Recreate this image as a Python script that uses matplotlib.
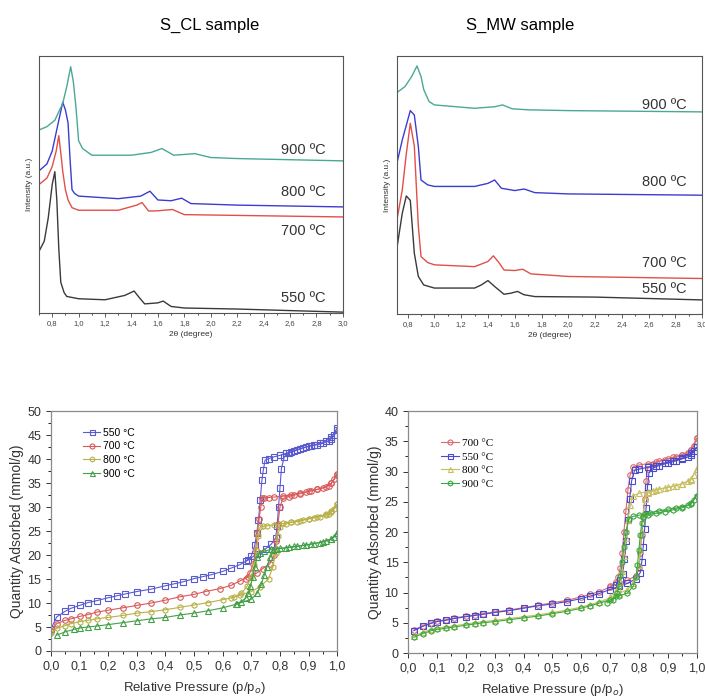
import matplotlib
matplotlib.use("Agg")
import matplotlib.pyplot as plt
from matplotlib.ticker import FuncFormatter, MultipleLocator

# ---- XRD patterns, S_CL (2theta, intensity a.u.) ----
cl_550_x = [0.70, 0.74, 0.77, 0.80, 0.82, 0.835, 0.85, 0.865, 0.89, 0.91, 1.0, 1.2, 1.35, 1.42, 1.46, 1.50, 1.60, 1.64, 1.70, 1.80, 2.2, 3.0]
cl_550_y = [24, 28, 37, 50, 55, 44, 25, 12, 8, 6.5, 5.6, 5.2, 6.9, 8.6, 6.0, 3.6, 4.0, 4.7, 2.6, 2.0, 1.6, 0.4]
cl_700_x = [0.70, 0.76, 0.80, 0.83, 0.85, 0.87, 0.88, 0.90, 0.92, 0.95, 1.0, 1.3, 1.44, 1.48, 1.53, 1.60, 1.71, 1.80, 2.2, 3.0]
cl_700_y = [50, 52.5, 57, 63, 69, 60, 55, 48, 44, 41, 40, 40, 42, 43, 39.7, 39.8, 40.3, 38.3, 38.0, 37.4]
cl_800_x = [0.70, 0.76, 0.80, 0.85, 0.88, 0.90, 0.92, 0.935, 0.95, 0.97, 1.0, 1.3, 1.47, 1.54, 1.60, 1.70, 1.78, 1.85, 2.2, 3.0]
cl_800_y = [55.3, 58, 63, 75, 82, 79, 74, 60, 48, 46.5, 45.5, 44.5, 45.5, 47.4, 44, 43.7, 44.7, 42.6, 42.0, 41.3]
cl_900_x = [0.70, 0.76, 0.82, 0.88, 0.91, 0.94, 0.96, 0.98, 1.0, 1.03, 1.1, 1.4, 1.55, 1.63, 1.72, 1.88, 2.0, 2.2, 3.0]
cl_900_y = [71.2, 72.5, 75, 81.6, 88, 95.8, 90, 80, 67, 64, 61.4, 61.4, 62.5, 64, 61.4, 62, 60.5, 60.1, 59.2]
cl_label_y = [6, 32, 47.1, 63.4]

# ---- XRD patterns, S_MW ----
mw_550_x = [0.72, 0.76, 0.79, 0.82, 0.85, 0.88, 0.92, 1.0, 1.3, 1.35, 1.40, 1.45, 1.52, 1.57, 1.62, 1.67, 1.75, 2.2, 3.0]
mw_550_y = [25.5, 39, 45.7, 44, 23.5, 14.5, 11.2, 10, 10, 11.2, 12.9, 10.6, 7.6, 8.0, 8.7, 7.4, 6.7, 6.5, 5.4]
mw_700_x = [0.72, 0.76, 0.79, 0.82, 0.85, 0.88, 0.90, 0.95, 1.0, 1.3, 1.4, 1.44, 1.48, 1.52, 1.6, 1.66, 1.72, 2.0, 3.0]
mw_700_y = [36.4, 48, 62, 73.9, 65, 34, 22.2, 19.9, 19, 18.3, 20.3, 22.5, 20, 17, 16.8, 17.3, 15.5, 14.5, 13.7]
mw_800_x = [0.72, 0.76, 0.82, 0.85, 0.88, 0.90, 0.95, 1.0, 1.3, 1.40, 1.45, 1.50, 1.6, 1.67, 1.75, 2.0, 3.0]
mw_800_y = [58.4, 67.4, 78.8, 77.1, 64.9, 51.9, 50, 49.4, 49.4, 50.6, 51.9, 48.7, 47.8, 48.4, 47, 46.5, 46]
mw_900_x = [0.72, 0.78, 0.83, 0.87, 0.90, 0.92, 0.96, 1.0, 1.3, 1.45, 1.51, 1.58, 1.7, 2.0, 3.0]
mw_900_y = [85.8, 88.1, 92, 96.1, 92, 87, 82.3, 81, 79.7, 80.3, 81, 79.5, 79.1, 78.8, 78.3]
mw_label_y = [9.6, 19.6, 51.3, 81]

temps = ["550", "700", "800", "900"]

# ---- N2 isotherms, S_CL (p/p0, mmol/g) ----
cl_iso_550_ads_x = [0.0, 0.02, 0.05, 0.07, 0.10, 0.13, 0.16, 0.20, 0.23, 0.26, 0.30, 0.35, 0.40, 0.43, 0.46, 0.50, 0.53, 0.56, 0.60, 0.63, 0.66, 0.69, 0.72, 0.75, 0.77, 0.785, 0.79, 0.795, 0.80, 0.805, 0.815, 0.83, 0.85, 0.87, 0.89, 0.91, 0.93, 0.95, 0.97, 0.98, 0.99, 1.0]
cl_iso_550_ads_y = [4.6, 7.1, 8.3, 8.9, 9.5, 10.1, 10.5, 11.1, 11.5, 11.9, 12.4, 12.9, 13.6, 14.0, 14.4, 15.1, 15.5, 15.9, 16.6, 17.3, 18.0, 19.0, 20.3, 21.3, 22.3, 23.6, 26.0, 30.0, 34.0, 38.0, 40.5, 41.3, 41.7, 42.1, 42.5, 42.8, 43.0, 43.3, 43.8, 44.3, 45.0, 46.0]
cl_iso_550_des_x = [1.0, 0.98, 0.96, 0.94, 0.92, 0.90, 0.88, 0.86, 0.84, 0.82, 0.80, 0.78, 0.76, 0.748, 0.742, 0.737, 0.731, 0.725, 0.719, 0.712, 0.70, 0.68]
cl_iso_550_des_y = [46.5, 44.6, 43.8, 43.3, 43.0, 42.7, 42.4, 42.0, 41.6, 41.2, 40.8, 40.5, 40.1, 39.8, 37.8, 35.6, 31.5, 27.3, 24.6, 22.0, 19.8, 18.7]
cl_iso_700_ads_x = [0.0, 0.02, 0.05, 0.07, 0.10, 0.13, 0.16, 0.20, 0.25, 0.30, 0.35, 0.40, 0.45, 0.50, 0.54, 0.59, 0.63, 0.66, 0.69, 0.72, 0.74, 0.765, 0.78, 0.787, 0.793, 0.80, 0.81, 0.83, 0.85, 0.87, 0.89, 0.91, 0.93, 0.95, 0.97, 0.98, 0.99, 1.0]
cl_iso_700_ads_y = [4.2, 5.7, 6.4, 6.7, 7.2, 7.6, 8.1, 8.5, 9.0, 9.5, 10.0, 10.6, 11.3, 11.8, 12.4, 13.0, 13.7, 14.6, 15.5, 16.3, 17.2, 18.2, 20.0, 23.0, 26.5, 30.0, 31.8, 32.2, 32.5, 32.8, 33.1, 33.4, 33.7, 34.0, 34.5, 35.0, 35.8, 36.8]
cl_iso_700_des_x = [1.0, 0.98, 0.96, 0.93, 0.90, 0.87, 0.84, 0.81, 0.78, 0.76, 0.745, 0.738, 0.733, 0.727, 0.721, 0.715, 0.707, 0.695, 0.68]
cl_iso_700_des_y = [37.0, 35.0, 34.2, 33.7, 33.3, 32.9, 32.6, 32.3, 32.1, 32.0, 31.9, 31.9, 30.0, 27.5, 24.5, 21.0, 18.2, 16.3, 15.1]
cl_iso_800_ads_x = [0.0, 0.02, 0.05, 0.07, 0.10, 0.13, 0.16, 0.20, 0.25, 0.30, 0.35, 0.40, 0.45, 0.50, 0.55, 0.60, 0.63, 0.66, 0.70, 0.73, 0.76, 0.775, 0.785, 0.792, 0.80, 0.82, 0.84, 0.86, 0.88, 0.90, 0.92, 0.94, 0.96, 0.97, 0.98, 0.99, 1.0]
cl_iso_800_ads_y = [3.8, 4.7, 5.3, 5.7, 6.1, 6.4, 6.7, 7.0, 7.4, 7.9, 8.2, 8.6, 9.1, 9.6, 10.1, 10.7, 11.1, 11.6, 12.4, 13.4, 15.0, 17.5, 20.5, 24.0, 25.8, 26.5, 26.8, 27.0, 27.3, 27.5, 27.8, 28.0, 28.3, 28.6, 29.0, 29.6, 30.6]
cl_iso_800_des_x = [1.0, 0.98, 0.96, 0.93, 0.90, 0.87, 0.84, 0.81, 0.78, 0.755, 0.74, 0.731, 0.725, 0.718, 0.71, 0.70, 0.685, 0.665, 0.64]
cl_iso_800_des_y = [30.6, 29.2, 28.5, 28.0, 27.6, 27.2, 26.9, 26.6, 26.3, 26.1, 26.0, 25.9, 24.0, 21.0, 18.0, 15.5, 13.5, 12.0, 11.2]
cl_iso_900_ads_x = [0.02, 0.05, 0.08, 0.10, 0.13, 0.16, 0.20, 0.25, 0.30, 0.35, 0.40, 0.45, 0.50, 0.55, 0.60, 0.65, 0.70, 0.72, 0.735, 0.745, 0.755, 0.765, 0.775, 0.79, 0.82, 0.85, 0.88, 0.91, 0.94, 0.96, 0.98, 0.99, 1.0]
cl_iso_900_ads_y = [3.3, 4.0, 4.5, 4.8, 5.0, 5.2, 5.5, 5.9, 6.3, 6.7, 7.0, 7.5, 7.9, 8.4, 9.0, 9.8, 10.8, 12.0, 14.0, 15.8, 17.6, 19.5, 21.0, 21.3, 21.5, 21.8, 22.0, 22.3, 22.6, 22.9, 23.3, 23.8, 24.6]
cl_iso_900_des_x = [1.0, 0.98, 0.95, 0.92, 0.89, 0.86, 0.83, 0.80, 0.77, 0.745, 0.73, 0.72, 0.712, 0.705, 0.697, 0.69, 0.68, 0.665, 0.645]
cl_iso_900_des_y = [24.6, 23.4, 22.8, 22.4, 22.1, 21.8, 21.6, 21.4, 21.2, 20.8, 20.4, 19.5, 17.5, 15.5, 13.5, 12.0, 11.0, 10.3, 9.8]

# ---- N2 isotherms, S_MW ----
mw_iso_700_ads_x = [0.02, 0.05, 0.08, 0.10, 0.13, 0.16, 0.20, 0.23, 0.26, 0.30, 0.35, 0.40, 0.45, 0.50, 0.55, 0.60, 0.63, 0.66, 0.70, 0.73, 0.76, 0.79, 0.80, 0.805, 0.81, 0.815, 0.82, 0.825, 0.83, 0.85, 0.87, 0.90, 0.93, 0.95, 0.97, 0.98, 0.99, 1.0]
mw_iso_700_ads_y = [3.8, 4.5, 5.0, 5.3, 5.5, 5.8, 6.1, 6.3, 6.5, 6.8, 7.1, 7.5, 7.9, 8.3, 8.7, 9.3, 9.7, 10.1, 10.9, 11.5, 12.0, 12.8, 14.0, 16.5, 19.5, 22.5, 25.5, 28.5, 30.5, 31.3, 31.7, 32.1, 32.4, 32.7, 33.0, 33.5, 34.2, 35.5]
mw_iso_700_des_x = [1.0, 0.98, 0.95, 0.92, 0.89, 0.86, 0.83, 0.80, 0.78, 0.77, 0.762, 0.755, 0.748, 0.742, 0.735, 0.728, 0.72, 0.70]
mw_iso_700_des_y = [35.5, 33.5, 32.8, 32.4, 32.0, 31.6, 31.3, 31.1, 30.8, 29.5, 27.0, 23.5, 20.0, 16.5, 14.0, 12.5, 11.8, 11.0]
mw_iso_550_ads_x = [0.02, 0.05, 0.08, 0.10, 0.13, 0.16, 0.20, 0.23, 0.26, 0.30, 0.35, 0.40, 0.45, 0.50, 0.55, 0.60, 0.63, 0.66, 0.70, 0.73, 0.76, 0.79, 0.805, 0.81, 0.815, 0.82, 0.825, 0.83, 0.835, 0.85, 0.87, 0.90, 0.93, 0.95, 0.97, 0.98, 0.99, 1.0]
mw_iso_550_ads_y = [3.7, 4.4, 4.9, 5.2, 5.4, 5.7, 6.0, 6.2, 6.4, 6.7, 7.0, 7.4, 7.8, 8.1, 8.5, 9.0, 9.4, 9.8, 10.5, 11.0, 11.5, 12.3, 13.3, 15.0, 17.5, 20.5, 24.0, 27.5, 29.8, 30.6, 31.0, 31.4, 31.8, 32.1, 32.4, 32.8, 33.4, 34.0]
mw_iso_550_des_x = [1.0, 0.98, 0.95, 0.92, 0.89, 0.86, 0.83, 0.80, 0.785, 0.775, 0.768, 0.762, 0.756, 0.75, 0.744, 0.735, 0.72]
mw_iso_550_des_y = [34.0, 33.0, 32.2, 31.8, 31.4, 31.0, 30.7, 30.4, 30.2, 28.5, 25.5, 22.0, 18.5, 15.5, 13.0, 12.0, 11.2]
mw_iso_800_ads_x = [0.02, 0.05, 0.08, 0.10, 0.13, 0.16, 0.20, 0.23, 0.26, 0.30, 0.35, 0.40, 0.45, 0.50, 0.55, 0.60, 0.63, 0.66, 0.70, 0.73, 0.76, 0.78, 0.79, 0.80, 0.805, 0.81, 0.815, 0.82, 0.83, 0.85, 0.87, 0.90, 0.93, 0.95, 0.97, 0.98, 0.99, 1.0]
mw_iso_800_ads_y = [2.8, 3.4, 3.9, 4.1, 4.3, 4.5, 4.8, 5.0, 5.2, 5.4, 5.7, 6.0, 6.3, 6.7, 7.1, 7.6, 8.0, 8.4, 9.1, 9.8, 10.5, 11.5, 12.8, 14.5, 17.0, 20.0, 23.0, 25.5, 26.4, 26.8, 27.1, 27.4, 27.7, 28.0, 28.4, 28.8, 29.5, 30.5]
mw_iso_800_des_x = [1.0, 0.98, 0.95, 0.92, 0.89, 0.86, 0.83, 0.80, 0.78, 0.77, 0.762, 0.755, 0.748, 0.742, 0.735, 0.728, 0.72, 0.70]
mw_iso_800_des_y = [30.5, 28.6, 28.0, 27.6, 27.3, 27.0, 26.7, 26.4, 26.0, 24.5, 22.0, 19.0, 16.0, 13.5, 11.8, 10.8, 10.2, 9.3]
mw_iso_900_ads_x = [0.02, 0.05, 0.08, 0.10, 0.13, 0.16, 0.20, 0.23, 0.26, 0.30, 0.35, 0.40, 0.45, 0.50, 0.55, 0.60, 0.63, 0.66, 0.70, 0.73, 0.76, 0.78, 0.79, 0.795, 0.80, 0.805, 0.81, 0.815, 0.82, 0.84, 0.87, 0.90, 0.93, 0.95, 0.97, 0.98, 0.99, 1.0]
mw_iso_900_ads_y = [2.6, 3.2, 3.7, 3.9, 4.1, 4.3, 4.6, 4.8, 5.0, 5.2, 5.5, 5.8, 6.1, 6.5, 6.9, 7.4, 7.8, 8.2, 8.8, 9.4, 9.9, 11.0, 12.5, 14.5, 17.0, 19.5, 21.5, 22.5, 23.0, 23.2, 23.5, 23.8, 24.0, 24.2, 24.5, 24.8, 25.3, 26.0]
mw_iso_900_des_x = [1.0, 0.98, 0.95, 0.92, 0.89, 0.86, 0.83, 0.80, 0.78, 0.765, 0.755, 0.748, 0.742, 0.736, 0.73, 0.725, 0.72, 0.71, 0.69]
mw_iso_900_des_y = [26.0, 24.6, 24.0, 23.7, 23.4, 23.1, 22.9, 22.8, 22.6, 22.2, 20.0, 17.5, 15.0, 12.8, 11.0, 10.0, 9.4, 8.8, 8.3]

plt.rcParams["font.family"] = ["Liberation Sans", "DejaVu Sans"]

xrd_colors = {"550": "#3a3a3a", "700": "#e0504a", "800": "#3c3cd0", "900": "#4aa894"}
comma = FuncFormatter(lambda v, pos: f"{v:.1f}".replace(".", ","))


def style_xrd(ax, xmin):
    ax.set_xlim(xmin, 3.0)
    ax.set_ylim(0, 100)
    ax.set_yticks([])
    ax.xaxis.set_major_locator(MultipleLocator(0.2))
    ax.xaxis.set_minor_locator(MultipleLocator(0.1))
    ax.xaxis.set_major_formatter(comma)
    ax.tick_params(axis="x", direction="out", length=3, width=0.6, labelsize=5.5,
                   colors="#444444", pad=2)
    ax.tick_params(axis="x", which="minor", direction="out", length=1.5, width=0.5)
    for s in ax.spines.values():
        s.set_color("#555555")
        s.set_linewidth(0.8)
    ax.set_xlabel("2θ (degree)", fontsize=6, color="#333333", labelpad=3)
    ax.set_ylabel("Intensity (a.u.)", fontsize=6, color="#333333", labelpad=4)


fig = plt.figure(figsize=(7.05, 6.99), dpi=100)

ax1 = fig.add_axes([0.0553, 0.552, 0.431, 0.368])
for t, xs, ys in zip(temps, [cl_550_x, cl_700_x, cl_800_x, cl_900_x],
                     [cl_550_y, cl_700_y, cl_800_y, cl_900_y]):
    ax1.plot(xs, ys, color=xrd_colors[t], lw=1.0)
for t, ly in zip(temps, cl_label_y):
    ax1.text(2.7, ly, f"{t} ºC", fontsize=10.5, color="#333333", ha="center", va="center")
style_xrd(ax1, 0.7)

ax2 = fig.add_axes([0.563, 0.551, 0.433, 0.369])
for t, xs, ys in zip(temps, [mw_550_x, mw_700_x, mw_800_x, mw_900_x],
                     [mw_550_y, mw_700_y, mw_800_y, mw_900_y]):
    ax2.plot(xs, ys, color=xrd_colors[t], lw=1.0)
for t, ly in zip(temps, mw_label_y):
    ax2.text(2.72, ly, f"{t} ºC", fontsize=10.5, color="#333333", ha="center", va="center")
style_xrd(ax2, 0.72)

fig.text(210 / 705, 1 - 25 / 699, "S_CL sample", fontsize=12, ha="center", va="center")
fig.text(520 / 705, 1 - 25 / 699, "S_MW sample", fontsize=12, ha="center", va="center")


def style_iso(ax, ymax):
    ax.set_xlim(0, 1.0)
    ax.set_ylim(0, ymax)
    ax.xaxis.set_major_locator(MultipleLocator(0.1))
    ax.xaxis.set_minor_locator(MultipleLocator(0.05))
    ax.yaxis.set_major_locator(MultipleLocator(5))
    ax.yaxis.set_minor_locator(MultipleLocator(2.5))
    ax.xaxis.set_major_formatter(comma)
    ax.tick_params(direction="out", length=3.5, width=0.7, labelsize=9, colors="#333333")
    ax.tick_params(which="minor", direction="out", length=2, width=0.6)
    for s in ax.spines.values():
        s.set_color("#8a8a8a")
        s.set_linewidth(0.9)
    ax.set_xlabel("Relative Pressure (p/p$_o$)", fontsize=9.5, color="#333333", labelpad=5)
    ax.set_ylabel("Quantity Adsorbed (mmol/g)", fontsize=10, color="#333333", labelpad=2)


def draw_iso(ax, ax_x, ax_y, de_x, de_y, color, marker, label):
    kw = dict(color=color, lw=0.8, marker=marker, ms=4, mfc="none", mew=0.8)
    ax.plot(ax_x, ax_y, label=label, **kw)
    ax.plot(de_x, de_y, **kw)


ax3 = fig.add_axes([0.0723, 0.0687, 0.406, 0.343])
draw_iso(ax3, cl_iso_550_ads_x, cl_iso_550_ads_y, cl_iso_550_des_x, cl_iso_550_des_y, "#5a5ad0", "s", "550 °C")
draw_iso(ax3, cl_iso_700_ads_x, cl_iso_700_ads_y, cl_iso_700_des_x, cl_iso_700_des_y, "#d85a5a", "o", "700 °C")
draw_iso(ax3, cl_iso_800_ads_x, cl_iso_800_ads_y, cl_iso_800_des_x, cl_iso_800_des_y, "#b8b048", "h", "800 °C")
draw_iso(ax3, cl_iso_900_ads_x, cl_iso_900_ads_y, cl_iso_900_des_x, cl_iso_900_des_y, "#44a048", "^", "900 °C")
style_iso(ax3, 50)
ax3.legend(loc="upper left", bbox_to_anchor=(0.08, 0.97), frameon=False, fontsize=7.5,
           handlelength=1.6, labelspacing=0.35, handletextpad=0.3, markerscale=0.9)

ax4 = fig.add_axes([0.579, 0.0658, 0.409, 0.346])
draw_iso(ax4, mw_iso_700_ads_x, mw_iso_700_ads_y, mw_iso_700_des_x, mw_iso_700_des_y, "#d86a70", "o", "700 °C")
draw_iso(ax4, mw_iso_550_ads_x, mw_iso_550_ads_y, mw_iso_550_des_x, mw_iso_550_des_y, "#4a4ad0", "s", "550 °C")
draw_iso(ax4, mw_iso_800_ads_x, mw_iso_800_ads_y, mw_iso_800_des_x, mw_iso_800_des_y, "#c8c060", "^", "800 °C")
draw_iso(ax4, mw_iso_900_ads_x, mw_iso_900_ads_y, mw_iso_900_des_x, mw_iso_900_des_y, "#3ca840", "h", "900 °C")
style_iso(ax4, 40)
ax4.legend(loc="upper left", bbox_to_anchor=(0.08, 0.93), frameon=False,
           prop={"family": "Liberation Serif", "size": 8},
           handlelength=1.6, labelspacing=0.35, handletextpad=0.3, markerscale=0.9)

fig.savefig("out.png", dpi=100)
